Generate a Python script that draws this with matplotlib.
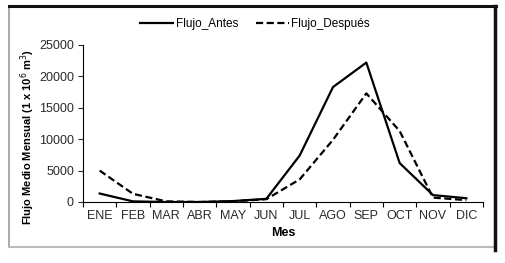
import matplotlib.pyplot as plt
from matplotlib.lines import Line2D

plt.rcParams['font.family'] = ['Liberation Sans', 'DejaVu Sans']

# monthly mean flow, 1 x 10^6 m^3
meses = ["ENE", "FEB", "MAR", "ABR", "MAY", "JUN", "JUL", "AGO", "SEP", "OCT", "NOV", "DIC"]
flujo_antes = [1350, 100, 0, 0, 150, 500, 7400, 18300, 22200, 6200, 1100, 600]
flujo_despues = [5000, 1300, 100, 0, 100, 450, 3600, 9900, 17300, 11300, 700, 300]

fig = plt.figure(figsize=(5.05, 2.63), dpi=100)

# outer frame: gray left/bottom, black top/right
fig.add_artist(Line2D([9/505, 9/505], [1-6/263, 1-247/263], color='#9a9a9a', lw=1.2, transform=fig.transFigure))
fig.add_artist(Line2D([9/505, 495/505], [1-247/263, 1-247/263], color='#bbbbbb', lw=1.5, transform=fig.transFigure))
fig.add_artist(Line2D([9/505, 496/505], [1-6/263, 1-6/263], color='#111111', lw=2.2, transform=fig.transFigure))
fig.add_artist(Line2D([495/505, 495/505], [1-6/263, 1-250/263], color='#111111', lw=2.5, transform=fig.transFigure))

ax = fig.add_axes([83/505, 1-202/263, 400/505, 157/263])
x = range(len(meses))
ax.plot(x, flujo_antes, color='black', lw=1.6, label='Flujo_Antes')
ax.plot(x, flujo_despues, color='black', lw=1.6, ls=(0, (3.2, 1.6)), label='Flujo_Después')

ax.set_xlim(-0.5, len(meses) - 0.5)
ax.set_ylim(0, 25000)
ax.set_yticks([0, 5000, 10000, 15000, 20000, 25000])
ax.set_xticks(list(x))
ax.set_xticklabels(meses)
ax.set_xticks([i - 0.5 for i in range(len(meses) + 1)], minor=True)
ax.tick_params(axis='x', which='major', length=0, pad=6, labelsize=9, colors='#2a2a2a')
ax.tick_params(axis='x', which='minor', length=3.5, width=0.8, direction='out')
ax.tick_params(axis='y', length=3.5, width=0.8, direction='out', labelsize=9, pad=3, colors='#2a2a2a')

for s in ['top', 'right']:
    ax.spines[s].set_visible(False)
ax.spines['left'].set_linewidth(0.8)
ax.spines['bottom'].set_linewidth(0.8)

ax.set_xlabel('Mes', fontsize=9, fontweight='bold', labelpad=3)
ax.set_ylabel('Flujo Medio Mensual (1 x 10$^6$ m$^3$)', fontsize=8, fontweight='bold')
ax.yaxis.set_label_coords(-0.115, 0.414)

ax.legend(loc='center', bbox_to_anchor=(255/505, 1-24/263), bbox_transform=fig.transFigure,
          ncol=2, frameon=False, fontsize=8.5, handlelength=2.8, handletextpad=0.2, columnspacing=1.5)

fig.savefig('out.png', dpi=100)
